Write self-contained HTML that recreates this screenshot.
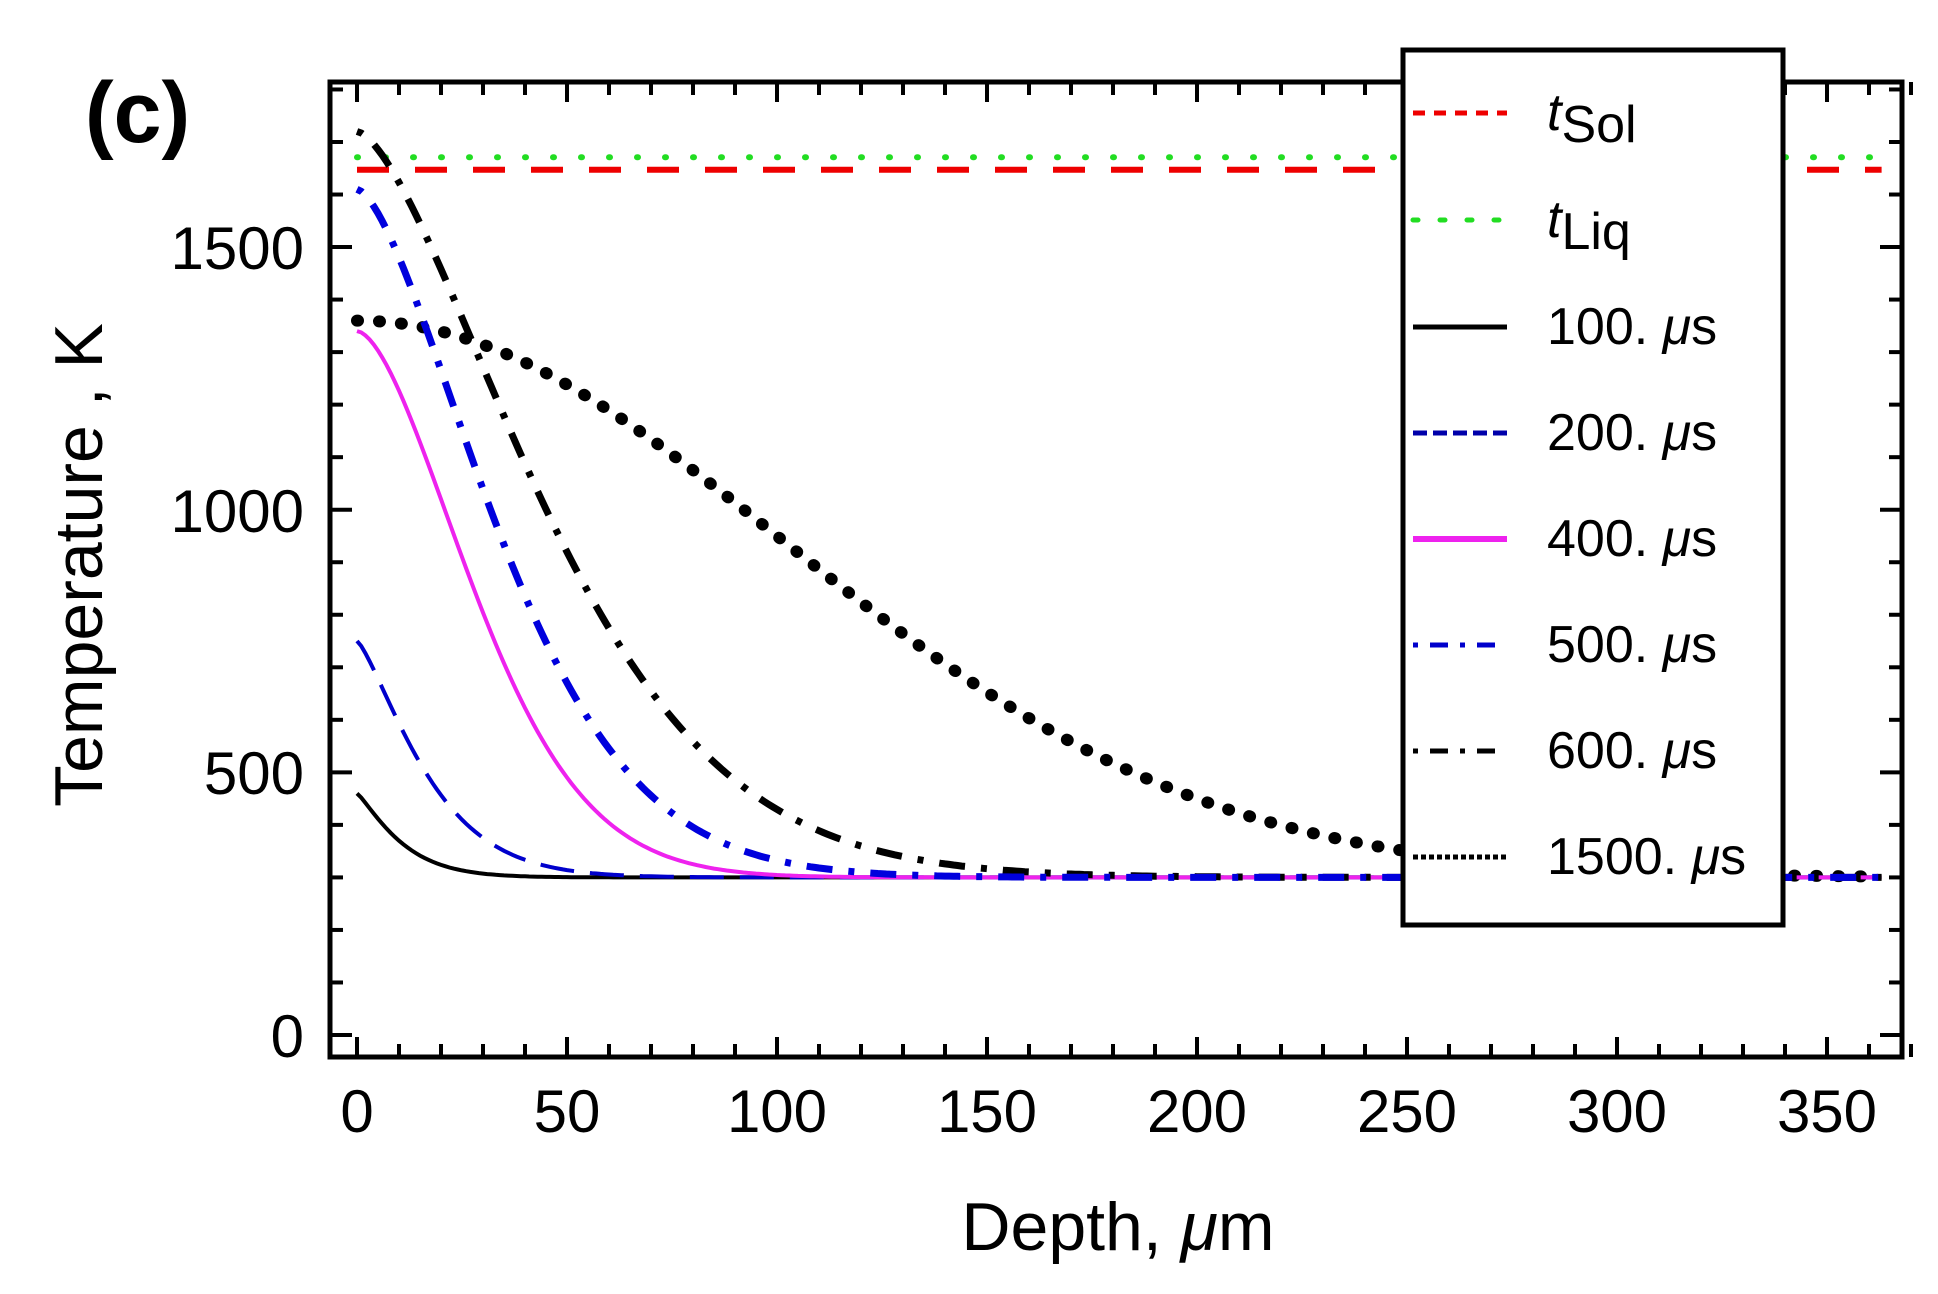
<!DOCTYPE html>
<html><head><meta charset="utf-8"><style>
html,body{margin:0;padding:0;background:#fff;}
svg{display:block;font-family:"Liberation Sans",Arial,sans-serif;}
</style></head><body>
<svg id="s" width="1938" height="1294" viewBox="0 0 1938 1294" xmlns="http://www.w3.org/2000/svg">
<rect width="1938" height="1294" fill="#fff"/>
<g id="ticks" stroke="#000" stroke-width="4"></g>
<g id="curves" fill="none"></g>
<rect x="330" y="82" width="1572" height="975" fill="none" stroke="#000" stroke-width="5"/>
<g font-size="60" fill="#000">
<text x="357" y="1132" text-anchor="middle">0</text>
<text x="567" y="1132" text-anchor="middle">50</text>
<text x="777" y="1132" text-anchor="middle">100</text>
<text x="987" y="1132" text-anchor="middle">150</text>
<text x="1197" y="1132" text-anchor="middle">200</text>
<text x="1407" y="1132" text-anchor="middle">250</text>
<text x="1617" y="1132" text-anchor="middle">300</text>
<text x="1827" y="1132" text-anchor="middle">350</text>
<text x="304" y="1057" text-anchor="end">0</text>
<text x="304" y="794" text-anchor="end">500</text>
<text x="304" y="532" text-anchor="end">1000</text>
<text x="304" y="269" text-anchor="end">1500</text>
<text x="1118" y="1250" text-anchor="middle" font-size="68">Depth, <tspan font-style="italic">μ</tspan>m</text>
<text transform="translate(102,565) rotate(-90)" text-anchor="middle" font-size="68">Temperature , K</text>
<text x="85" y="142" font-size="86" font-weight="bold">(c)</text>
</g>
<rect x="1403" y="50" width="380" height="875" fill="#fff" stroke="#000" stroke-width="5"/>
<g stroke-width="5" fill="none">
<line x1="1413" y1="113" x2="1507" y2="113" stroke="#e00" stroke-dasharray="12,9"/>
<line x1="1413" y1="220" x2="1507" y2="220" stroke="#2d2" stroke-dasharray="5,22" stroke-linecap="round"/>
<line x1="1413" y1="327" x2="1507" y2="327" stroke="#000"/>
<line x1="1413" y1="433" x2="1507" y2="433" stroke="#00a" stroke-dasharray="14,6"/>
<line x1="1413" y1="539" x2="1507" y2="539" stroke="#e2e" stroke-width="6"/>
<line x1="1413" y1="645" x2="1507" y2="645" stroke="#00c" stroke-dasharray="5,12,18,12"/>
<line x1="1413" y1="751" x2="1507" y2="751" stroke="#000" stroke-dasharray="5,12,18,12"/>
<line x1="1413" y1="857" x2="1507" y2="857" stroke="#000" stroke-dasharray="5,3"/>
</g>
<g font-size="52" fill="#000">
<text x="1547" y="130" font-style="italic">t<tspan font-style="normal" dy="12">Sol</tspan></text>
<text x="1547" y="237" font-style="italic">t<tspan font-style="normal" dy="12">Liq</tspan></text>
<text x="1547" y="344">100. <tspan font-style="italic">μ</tspan>s</text>
<text x="1547" y="450">200. <tspan font-style="italic">μ</tspan>s</text>
<text x="1547" y="556">400. <tspan font-style="italic">μ</tspan>s</text>
<text x="1547" y="662">500. <tspan font-style="italic">μ</tspan>s</text>
<text x="1547" y="768">600. <tspan font-style="italic">μ</tspan>s</text>
<text x="1547" y="874">1500. <tspan font-style="italic">μ</tspan>s</text>
</g>
<script>
(function(){
var NS="http://www.w3.org/2000/svg";
function X(d){return 357+4.2*d;} function Y(t){return 1035-0.5253*t;}
var tk=document.getElementById('ticks');
function ln(x1,y1,x2,y2){var l=document.createElementNS(NS,'line');l.setAttribute('x1',x1);l.setAttribute('y1',y1);l.setAttribute('x2',x2);l.setAttribute('y2',y2);tk.appendChild(l);}
for(var d=0;d<=370;d+=10){var L=(d%50==0)?20:13;ln(X(d),1057,X(d),1057-L);ln(X(d),82,X(d),82+L);}
for(var t=0;t<=1800;t+=100){var y=Y(t);if(y<84)continue;var L=(t%500==0)?22:13;ln(330,y,330+L,y);ln(1902,y,1902-L,y);}
var cv=document.getElementById('curves');
function path(f,attrs){var s='';for(var d=0;d<=363;d+=1){s+=(d?'L':'M')+X(d).toFixed(1)+','+Y(f(d)).toFixed(1);}var p=document.createElementNS(NS,'path');p.setAttribute('d',s);for(var k in attrs)p.setAttribute(k,attrs[k]);cv.appendChild(p);}
function g(A,L,p){return function(d){return 300+A*Math.exp(-Math.pow(d/L,p));};}
path(function(d){return 1671;},{stroke:'#2d2','stroke-width':6,'stroke-dasharray':'1,27','stroke-linecap':'round'});
path(function(d){return 1647;},{stroke:'#e00','stroke-width':6,'stroke-dasharray':'32,26'});
path(g(1060,143,2),{stroke:'#000','stroke-width':12,'stroke-dasharray':'1,21','stroke-linecap':'round'});
path(g(160,11.7,1.2),{stroke:'#000','stroke-width':4});
path(g(450,19.2,1.3),{stroke:'#00c','stroke-width':4,'stroke-dasharray':'34,16'});
path(g(1040,36.4,1.67),{stroke:'#e2e','stroke-width':4});
path(g(1420,56.5,1.53),{stroke:'#000','stroke-width':7,'stroke-dasharray':'6,16,26,16'});
path(g(1310,43,1.55),{stroke:'#00d','stroke-width':7,'stroke-dasharray':'6,16,26,16'});
})();
</script>
</svg>
</body></html>
